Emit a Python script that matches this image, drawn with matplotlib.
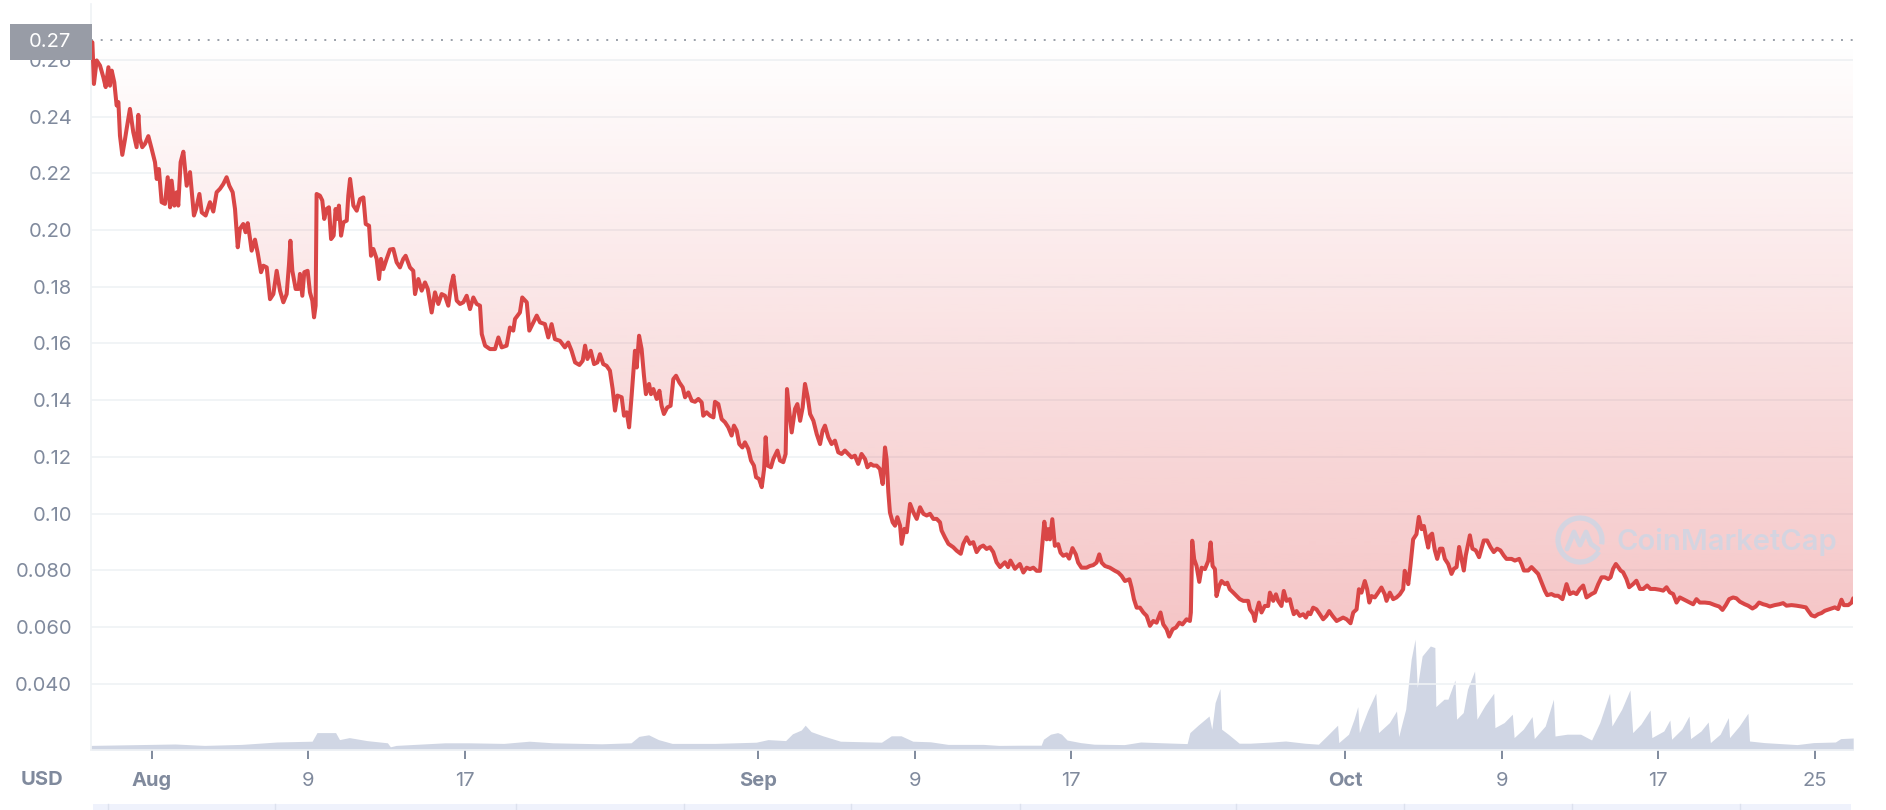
import numpy as np
import matplotlib.pyplot as plt
from matplotlib.patches import Rectangle, Arc, PathPatch
from matplotlib.lines import Line2D

plt.rcParams['font.family'] = ['Inter', 'DejaVu Sans']

# x = days since 1 Aug (negative = end of July), price in USD
price_days = [
    -3.03, -2.95, -2.81, -2.64, -2.47, -2.35, -2.21, -2.13, -2.04, -1.91,
    -1.79, -1.70, -1.62, -1.50, -1.36, -1.28, -1.11, -0.94, -0.77, -0.68,
    -0.60, -0.48, -0.34, -0.17, 0.00, 0.17, 0.26, 0.37, 0.51, 0.68,
    0.82, 0.94, 1.02, 1.16, 1.28, 1.36, 1.48, 1.62, 1.79, 1.96,
    2.16, 2.27, 2.44, 2.56, 2.76, 2.98, 3.15, 3.32, 3.49, 3.66,
    3.83, 3.97, 4.14, 4.26, 4.40, 4.51, 4.68, 4.80, 4.91, 5.03,
    5.11, 5.28, 5.42, 5.59, 5.71, 5.88, 6.05, 6.22, 6.39, 6.56,
    6.73, 6.90, 7.02, 7.09, 7.19, 7.36, 7.50, 7.58, 7.70, 7.80,
    7.97, 8.09, 8.21, 8.30, 8.38, 8.43, 8.60, 8.72, 8.82, 8.94,
    9.06, 9.17, 9.30, 9.40, 9.51, 9.57, 9.68, 9.80, 9.97, 10.05,
    10.14, 10.31, 10.48, 10.65, 10.82, 10.94, 11.11, 11.21, 11.33, 11.50,
    11.62, 11.72, 11.84, 12.01, 12.18, 12.35, 12.52, 12.69, 12.86, 12.98,
    13.20, 13.37, 13.46, 13.63, 13.80, 13.97, 14.11, 14.31, 14.48, 14.65,
    14.82, 14.99, 15.16, 15.30, 15.42, 15.59, 15.76, 15.93, 16.10, 16.27,
    16.44, 16.61, 16.78, 16.87, 17.04, 17.29, 17.55, 17.72, 17.89, 18.14,
    18.31, 18.48, 18.57, 18.82, 18.94, 19.17, 19.30, 19.51, 19.68, 19.85,
    20.10, 20.27, 20.44, 20.61, 20.87, 21.12, 21.29, 21.46, 21.64, 21.86,
    22.03, 22.15, 22.27, 22.44, 22.61, 22.78, 22.91, 23.08, 23.25, 23.42,
    23.56, 23.68, 23.80, 24.02, 24.14, 24.28, 24.40, 24.53, 24.70, 24.79,
    24.91, 25.04, 25.16, 25.26, 25.42, 25.52, 25.64, 25.81, 25.95, 26.06,
    26.18, 26.35, 26.52, 26.66, 26.80, 26.97, 27.14, 27.26, 27.43, 27.60,
    27.77, 27.94, 28.11, 28.19, 28.36, 28.54, 28.71, 28.79, 28.96, 29.13,
    29.30, 29.47, 29.64, 29.76, 29.90, 30.03, 30.19, 30.32, 30.49, 30.63,
    30.78, 30.89, 31.04, 31.18, 31.30, 31.38, 31.48, 31.65, 31.77, 31.98,
    32.11, 32.28, 32.40, 32.47, 32.59, 32.71, 32.88, 33.00, 33.14, 33.27,
    33.39, 33.53, 33.65, 33.82, 33.99, 34.16, 34.29, 34.41, 34.58, 34.75,
    34.92, 35.09, 35.26, 35.43, 35.60, 35.77, 35.94, 36.11, 36.28, 36.46,
    36.58, 36.75, 36.88, 37.05, 37.22, 37.36, 37.48, 37.56, 37.65, 37.73,
    37.87, 37.99, 38.11, 38.25, 38.33, 38.47, 38.59, 38.76, 38.93, 39.10,
    39.27, 39.44, 39.61, 39.78, 39.95, 40.12, 40.29, 40.37, 40.54, 40.72,
    40.97, 41.14, 41.35, 41.48, 41.65, 41.82, 41.99, 42.16, 42.33, 42.50,
    42.67, 42.84, 43.01, 43.18, 43.36, 43.61, 43.77, 43.89, 44.12, 44.37,
    44.55, 44.72, 44.89, 45.06, 45.23, 45.40, 45.48, 45.62, 45.74, 45.82,
    45.91, 46.03, 46.16, 46.33, 46.45, 46.59, 46.76, 46.89, 47.06, 47.23,
    47.35, 47.52, 47.78, 47.95, 48.12, 48.29, 48.43, 48.55, 48.72, 48.97,
    49.23, 49.40, 49.57, 49.74, 49.97, 50.08, 50.20, 50.34, 50.51, 50.68,
    50.85, 51.02, 51.19, 51.36, 51.56, 51.70, 51.87, 52.00, 52.18, 52.35,
    52.52, 52.68, 52.89, 53.06, 53.11, 53.18, 53.28, 53.40, 53.54, 53.66,
    53.83, 54.00, 54.12, 54.22, 54.34, 54.42, 54.56, 54.68, 54.85, 54.97,
    55.10, 55.28, 55.45, 55.61, 55.79, 56.04, 56.13, 56.30, 56.38, 56.47,
    56.59, 56.72, 56.89, 57.06, 57.15, 57.32, 57.46, 57.57, 57.74, 57.86,
    58.00, 58.17, 58.25, 58.37, 58.51, 58.68, 58.85, 58.99, 59.11, 59.22,
    59.36, 59.53, 59.70, 59.87, 60.04, 60.18, 60.35, 60.56, 60.73, 60.89,
    61.07, 61.27, 61.41, 61.58, 61.70, 61.83, 62.00, 62.12, 62.23, 62.34,
    62.51, 62.68, 62.85, 63.02, 63.11, 63.28, 63.45, 63.62, 63.79, 63.96,
    64.04, 64.13, 64.22, 64.33, 64.47, 64.64, 64.76, 64.90, 65.02, 65.15,
    65.24, 65.32, 65.44, 65.58, 65.70, 65.84, 65.97, 66.09, 66.26, 66.43,
    66.55, 66.69, 66.82, 66.94, 67.06, 67.16, 67.28, 67.37, 67.50, 67.67,
    67.84, 67.96, 68.08, 68.25, 68.42, 68.59, 68.76, 68.93, 69.10, 69.24,
    69.50, 69.67, 69.89, 70.01, 70.13, 70.35, 70.52, 70.69, 70.86, 71.03,
    71.20, 71.32, 71.54, 71.71, 71.88, 72.10, 72.31, 72.48, 72.65, 72.82,
    72.99, 73.16, 73.33, 73.59, 73.76, 73.93, 74.10, 74.27, 74.44, 74.56,
    74.69, 74.83, 74.95, 75.07, 75.20, 75.37, 75.51, 75.71, 75.88, 76.06,
    76.23, 76.43, 76.60, 76.82, 77.08, 77.25, 77.42, 77.59, 77.76, 77.93,
    78.10, 78.27, 78.44, 78.61, 78.78, 78.95, 79.12, 79.38, 79.63, 79.89,
    80.11, 80.28, 80.45, 80.62, 80.82, 80.99, 81.17, 81.42, 81.59, 81.81,
    81.98, 82.15, 82.36, 82.53, 82.70, 82.95, 83.18, 83.38, 83.55, 83.81,
    84.06, 84.32, 84.54, 84.66, 84.83, 85.00, 85.17, 85.34, 85.51, 85.77,
    86.02, 86.19, 86.36, 86.48, 86.71, 86.88, 86.96,
]
price_usd = [
    0.2662, 0.2515, 0.2598, 0.2580, 0.2539, 0.2504, 0.2574, 0.2509, 0.2562, 0.2521,
    0.2439, 0.2451, 0.2333, 0.2265, 0.2321, 0.2356, 0.2427, 0.2345, 0.2292, 0.2406,
    0.2321, 0.2292, 0.2304, 0.2331, 0.2286, 0.2239, 0.2180, 0.2215, 0.2098, 0.2092,
    0.2186, 0.2080, 0.2174, 0.2086, 0.2133, 0.2086, 0.2239, 0.2276, 0.2156, 0.2204,
    0.2051, 0.2074, 0.2127, 0.2062, 0.2051, 0.2098, 0.2065, 0.2133, 0.2145, 0.2162,
    0.2186, 0.2156, 0.2133, 0.2074, 0.1939, 0.2004, 0.2021, 0.1992, 0.2024, 0.1968,
    0.1927, 0.1966, 0.1919, 0.1851, 0.1874, 0.1868, 0.1756, 0.1774, 0.1856, 0.1786,
    0.1745, 0.1774, 0.1880, 0.1962, 0.1856, 0.1792, 0.1792, 0.1845, 0.1768, 0.1851,
    0.1856, 0.1780, 0.1751, 0.1692, 0.1733, 0.2127, 0.2121, 0.2104, 0.2039, 0.2074,
    0.2080, 0.1968, 0.1980, 0.2074, 0.2039, 0.2086, 0.1980, 0.2027, 0.2033, 0.2121,
    0.2180, 0.2086, 0.2068, 0.2109, 0.2115, 0.2021, 0.2015, 0.1909, 0.1933, 0.1898,
    0.1827, 0.1898, 0.1862, 0.1898, 0.1931, 0.1933, 0.1886, 0.1868, 0.1898, 0.1909,
    0.1868, 0.1856, 0.1774, 0.1827, 0.1786, 0.1815, 0.1792, 0.1709, 0.1780, 0.1739,
    0.1774, 0.1768, 0.1733, 0.1804, 0.1839, 0.1751, 0.1739, 0.1745, 0.1768, 0.1721,
    0.1762, 0.1739, 0.1733, 0.1633, 0.1592, 0.1580, 0.1580, 0.1621, 0.1586, 0.1592,
    0.1656, 0.1645, 0.1686, 0.1709, 0.1762, 0.1745, 0.1645, 0.1674, 0.1698, 0.1674,
    0.1668, 0.1621, 0.1668, 0.1615, 0.1609, 0.1586, 0.1603, 0.1574, 0.1533, 0.1524,
    0.1539, 0.1592, 0.1545, 0.1574, 0.1527, 0.1533, 0.1562, 0.1527, 0.1521, 0.1504,
    0.1439, 0.1363, 0.1416, 0.1410, 0.1345, 0.1357, 0.1304, 0.1416, 0.1574, 0.1515,
    0.1627, 0.1580, 0.1486, 0.1421, 0.1457, 0.1421, 0.1439, 0.1404, 0.1433, 0.1380,
    0.1351, 0.1374, 0.1380, 0.1474, 0.1486, 0.1462, 0.1445, 0.1410, 0.1427, 0.1398,
    0.1394, 0.1404, 0.1392, 0.1345, 0.1357, 0.1345, 0.1339, 0.1394, 0.1386, 0.1333,
    0.1322, 0.1304, 0.1275, 0.1310, 0.1292, 0.1245, 0.1233, 0.1251, 0.1228, 0.1187,
    0.1169, 0.1128, 0.1122, 0.1093, 0.1157, 0.1269, 0.1169, 0.1163, 0.1192, 0.1222,
    0.1187, 0.1181, 0.1210, 0.1439, 0.1357, 0.1286, 0.1369, 0.1386, 0.1327, 0.1374,
    0.1457, 0.1410, 0.1351, 0.1327, 0.1280, 0.1245, 0.1292, 0.1310, 0.1269, 0.1245,
    0.1257, 0.1216, 0.1210, 0.1222, 0.1210, 0.1198, 0.1204, 0.1175, 0.1210, 0.1192,
    0.1163, 0.1175, 0.1169, 0.1169, 0.1157, 0.1104, 0.1233, 0.1192, 0.1075, 0.1004,
    0.0969, 0.0957, 0.0987, 0.0957, 0.0893, 0.0946, 0.0934, 0.1034, 0.1004, 0.0981,
    0.1022, 0.0999, 0.0993, 0.0999, 0.0981, 0.0981, 0.0969, 0.0940, 0.0916, 0.0893,
    0.0881, 0.0869, 0.0858, 0.0893, 0.0916, 0.0893, 0.0899, 0.0864, 0.0881, 0.0887,
    0.0875, 0.0881, 0.0864, 0.0828, 0.0811, 0.0828, 0.0811, 0.0834, 0.0805, 0.0822,
    0.0792, 0.0809, 0.0804, 0.0809, 0.0798, 0.0798, 0.0862, 0.0971, 0.0909, 0.0945,
    0.0909, 0.0980, 0.0886, 0.0892, 0.0862, 0.0851, 0.0856, 0.0841, 0.0878, 0.0856,
    0.0827, 0.0809, 0.0809, 0.0815, 0.0818, 0.0827, 0.0856, 0.0827, 0.0815, 0.0809,
    0.0798, 0.0792, 0.0780, 0.0762, 0.0768, 0.0739, 0.0698, 0.0668, 0.0668, 0.0651,
    0.0639, 0.0604, 0.0621, 0.0615, 0.0651, 0.0609, 0.0592, 0.0566, 0.0592, 0.0598,
    0.0615, 0.0609, 0.0627, 0.0621, 0.0651, 0.0904, 0.0839, 0.0815, 0.0759, 0.0809,
    0.0804, 0.0833, 0.0898, 0.0815, 0.0804, 0.0709, 0.0745, 0.0762, 0.0751, 0.0756,
    0.0733, 0.0721, 0.0709, 0.0698, 0.0692, 0.0692, 0.0662, 0.0645, 0.0621, 0.0656,
    0.0686, 0.0651, 0.0674, 0.0674, 0.0721, 0.0692, 0.0715, 0.0692, 0.0674, 0.0727,
    0.0692, 0.0698, 0.0674, 0.0645, 0.0656, 0.0639, 0.0645, 0.0633, 0.0651, 0.0645,
    0.0668, 0.0662, 0.0645, 0.0627, 0.0639, 0.0656, 0.0639, 0.0621, 0.0627, 0.0633,
    0.0627, 0.0613, 0.0651, 0.0662, 0.0733, 0.0721, 0.0762, 0.0733, 0.0686, 0.0709,
    0.0704, 0.0721, 0.0739, 0.0715, 0.0692, 0.0721, 0.0698, 0.0704, 0.0715, 0.0733,
    0.0798, 0.0780, 0.0751, 0.0815, 0.0909, 0.0927, 0.0988, 0.0945, 0.0956, 0.0909,
    0.0880, 0.0921, 0.0929, 0.0870, 0.0840, 0.0876, 0.0876, 0.0840, 0.0822, 0.0787,
    0.0805, 0.0811, 0.0882, 0.0840, 0.0799, 0.0852, 0.0893, 0.0923, 0.0876, 0.0870,
    0.0846, 0.0876, 0.0905, 0.0905, 0.0882, 0.0864, 0.0876, 0.0870, 0.0852, 0.0840,
    0.0840, 0.0834, 0.0840, 0.0822, 0.0799, 0.0799, 0.0811, 0.0799, 0.0787, 0.0757,
    0.0728, 0.0712, 0.0716, 0.0710, 0.0710, 0.0698, 0.0751, 0.0716, 0.0722, 0.0716,
    0.0734, 0.0746, 0.0704, 0.0716, 0.0722, 0.0751, 0.0775, 0.0775, 0.0769, 0.0775,
    0.0805, 0.0822, 0.0811, 0.0799, 0.0793, 0.0769, 0.0740, 0.0751, 0.0763, 0.0734,
    0.0734, 0.0746, 0.0734, 0.0734, 0.0731, 0.0728, 0.0740, 0.0722, 0.0716, 0.0686,
    0.0704, 0.0698, 0.0692, 0.0686, 0.0680, 0.0698, 0.0686, 0.0686, 0.0684, 0.0677,
    0.0672, 0.0660, 0.0677, 0.0698, 0.0704, 0.0701, 0.0689, 0.0680, 0.0675, 0.0665,
    0.0672, 0.0686, 0.0680, 0.0677, 0.0672, 0.0677, 0.0680, 0.0684, 0.0675, 0.0677,
    0.0675, 0.0672, 0.0669, 0.0657, 0.0641, 0.0637, 0.0645, 0.0649, 0.0657, 0.0663,
    0.0669, 0.0663, 0.0696, 0.0677, 0.0677, 0.0686, 0.0701,
]

vol_days = [
    -3.10, 1.20, 2.70, 4.60, 6.40, 8.20, 8.45, 9.40, 9.60, 10.10,
    11.00, 12.05, 12.20, 12.50, 15.00, 16.20, 18.00, 19.30, 20.50, 23.00,
    24.50, 24.90, 25.40, 25.90, 26.60, 28.80, 30.90, 31.50, 32.40, 32.75,
    33.20, 33.40, 33.70, 34.30, 35.20, 37.30, 37.80, 38.30, 38.90, 39.80,
    40.70, 42.50, 43.30, 44.40, 45.46, 45.58, 45.94, 46.30, 46.50, 46.78,
    47.47, 48.17, 49.71, 50.55, 51.39, 52.92, 53.06, 53.48, 54.04, 54.18,
    54.35, 54.60, 54.68, 55.02, 55.58, 56.13, 57.25, 57.95, 58.93, 59.63,
    60.06, 60.61, 60.67, 61.17, 61.45, 61.64, 61.72, 62.14, 62.56, 62.70,
    63.26, 63.62, 63.73, 64.09, 64.37, 64.57, 64.68, 64.93, 65.35, 65.58,
    65.63, 66.05, 66.25, 66.61, 66.69, 67.03, 67.25, 67.61, 67.73, 68.15,
    68.59, 68.65, 69.12, 69.54, 69.63, 70.10, 70.55, 70.66, 71.22, 71.64,
    71.72, 72.34, 73.03, 73.59, 74.01, 74.51, 74.63, 75.13, 75.55, 75.69,
    76.11, 76.58, 76.67, 77.28, 77.59, 77.68, 78.20, 78.57, 78.65, 79.18,
    79.55, 79.66, 80.16, 80.58, 80.64, 81.14, 81.58, 81.66, 82.42, 84.09,
    84.93, 86.05, 86.32, 86.96,
]
vol_musd = [
    0.23, 0.30, 0.23, 0.28, 0.40, 0.44, 0.87, 0.87, 0.52, 0.62,
    0.47, 0.36, 0.16, 0.23, 0.36, 0.36, 0.33, 0.44, 0.36, 0.31,
    0.36, 0.68, 0.76, 0.52, 0.33, 0.33, 0.39, 0.52, 0.47, 0.81,
    1.00, 1.24, 0.92, 0.71, 0.44, 0.39, 0.71, 0.71, 0.44, 0.41,
    0.28, 0.28, 0.23, 0.24, 0.24, 0.54, 0.79, 0.87, 0.79, 0.50,
    0.37, 0.29, 0.27, 0.40, 0.37, 0.32, 0.87, 1.24, 1.70, 1.04,
    2.37, 3.07, 1.04, 0.79, 0.34, 0.34, 0.40, 0.45, 0.34, 0.29,
    0.70, 1.24, 0.37, 0.79, 1.54, 2.17, 0.87, 1.95, 2.84, 0.87,
    1.37, 1.95, 0.67, 2.04, 4.54, 5.54, 3.12, 4.70, 5.20, 5.12,
    2.17, 2.54, 2.54, 3.50, 1.54, 1.87, 3.04, 3.95, 1.54, 2.24,
    2.84, 1.12, 1.37, 1.79, 0.62, 1.04, 1.67, 0.57, 1.20, 2.54,
    0.70, 0.79, 0.79, 0.50, 1.37, 2.84, 1.20, 2.04, 3.00, 0.87,
    1.29, 2.00, 0.62, 0.95, 1.50, 0.54, 1.04, 1.70, 0.57, 0.95,
    1.40, 0.37, 0.79, 1.62, 0.62, 1.20, 1.84, 0.45, 0.37, 0.27,
    0.37, 0.40, 0.57, 0.60,
]

tick_days = [0, 8, 16, 31, 39, 47, 61, 69, 77, 85]
tick_labels = ['Aug', '9', '17', 'Sep', '9', '17', 'Oct', '9', '17', '25']
month_labels = ['Aug', 'Sep', 'Oct']
y_ticks = [0.04, 0.06, 0.08, 0.10, 0.12, 0.14, 0.16, 0.18, 0.20, 0.22, 0.24, 0.26]
y_labels = ['0.040', '0.060', '0.080', '0.10', '0.12', '0.14', '0.16',
            '0.18', '0.20', '0.22', '0.24', '0.26']
open_price = 0.267

W, H = 1886, 810
gray = '#808a9d'
grid_col = '#eff2f5'
line_red = '#d94646'
fsize = 14.5

fig = plt.figure(figsize=(W / 100, H / 100), dpi=100)
pos = [91 / W, 60 / H, (1853 - 91) / W, 746 / H]
x_lim = (-3.10, 86.95)
y_lim = (0.0166, 0.2797)

# volume underneath
ax_vol = fig.add_axes(pos)
ax_vol.fill_between(vol_days, vol_musd, 0, color='#d0d6e4', lw=0)
ax_vol.set_xlim(x_lim)
ax_vol.set_ylim(0, 37.3)
ax_vol.axis('off')

ax = fig.add_axes(pos)
ax.patch.set_visible(False)

# gradient fill between price and the opening price
poly = ax.fill_between(price_days, price_usd, open_price, color='none', lw=0)
clip = PathPatch(poly.get_paths()[0], transform=ax.transData,
                 facecolor='none', edgecolor='none')
ax.add_patch(clip)
p_min = min(price_usd)
ramp = np.linspace(0, 1, 256)[:, None]
rgba = np.zeros((256, 1, 4))
rgba[..., 0] = 222 / 255
rgba[..., 1] = 66 / 255
rgba[..., 2] = 70 / 255
rgba[..., 3] = ramp * 0.31
im = ax.imshow(rgba, extent=[x_lim[0], x_lim[1], p_min, open_price],
               origin='upper', aspect='auto', interpolation='bilinear', zorder=1)
im.set_clip_path(clip)

ax.plot(price_days, price_usd, color=line_red, lw=2.9,
        solid_joinstyle='round', solid_capstyle='round', zorder=3)
ax.axhline(open_price, color='#9aa0a9', lw=1.4, ls=(0, (1, 4)), zorder=2)

ax.set_xlim(x_lim)
ax.set_ylim(y_lim)

ax.set_yticks(y_ticks)
ax.set_yticklabels(y_labels)
ax.yaxis.grid(True, color=grid_col, lw=1.2)
ax.set_axisbelow(True)
ax.set_xticks(tick_days)
ax.set_xticklabels(tick_labels)
for lab in ax.get_xticklabels():
    if lab.get_text() in month_labels:
        lab.set_fontweight('bold')

ax.tick_params(axis='y', length=0, pad=13.5, labelsize=fsize, labelcolor=gray)
ax.tick_params(axis='x', length=6.5, width=1.4, color=gray, pad=9,
               labelsize=fsize, labelcolor=gray)

for side in ['top', 'right']:
    ax.spines[side].set_visible(False)
for side in ['left', 'bottom']:
    ax.spines[side].set_color(grid_col)
    ax.spines[side].set_linewidth(1.2)


def fx(px):
    return px / W


def fy(py):
    return 1 - py / H


# label for the opening price
fig.add_artist(Rectangle((fx(10), fy(60)), 82 / W, 36 / H, transform=fig.transFigure,
                         facecolor='#989ca6', edgecolor='none', zorder=5))
fig.text(fx(71), fy(42), '0.27', ha='right', va='center', color='white',
         fontsize=fsize, zorder=6)

fig.text(fx(42), fy(780), 'USD', ha='center', va='center', color=gray,
         fontsize=fsize, fontweight='bold')

# watermark
wm = '#cfd6e4'
fig.add_artist(Arc((fx(1580), fy(540)), 44 / W, 44 / H, theta1=-25, theta2=305,
                   transform=fig.transFigure, color=wm, lw=3.8, alpha=0.85, zorder=4))
zz_x = [-13, -6, 0, 6, 11, 18]
zz_y = [-9, 8, -5, 8, -4, -9]
fig.add_artist(Line2D([fx(1580 + a) for a in zz_x], [fy(540 - b) for b in zz_y],
                      transform=fig.transFigure, color=wm, lw=3.5, alpha=0.85,
                      solid_joinstyle='round', solid_capstyle='round', zorder=4))
fig.text(fx(1616), fy(542), 'CoinMarketCap', ha='left', va='center', color=wm,
         alpha=0.85, fontsize=21, fontweight='semibold', zorder=4)

# navigator strip at the bottom edge
fig.add_artist(Rectangle((fx(93), 0), (1851 - 93) / W, 6.5 / H, transform=fig.transFigure,
                         facecolor='#eff2fc', edgecolor='none', zorder=2))
for xd in [108, 275, 516, 684, 851, 1020, 1236, 1404, 1572, 1740]:
    fig.add_artist(Line2D([fx(xd), fx(xd)], [0, 6.5 / H], transform=fig.transFigure,
                          color='#dde2ee', lw=1, zorder=3))

fig.savefig('out.png', dpi=100)
